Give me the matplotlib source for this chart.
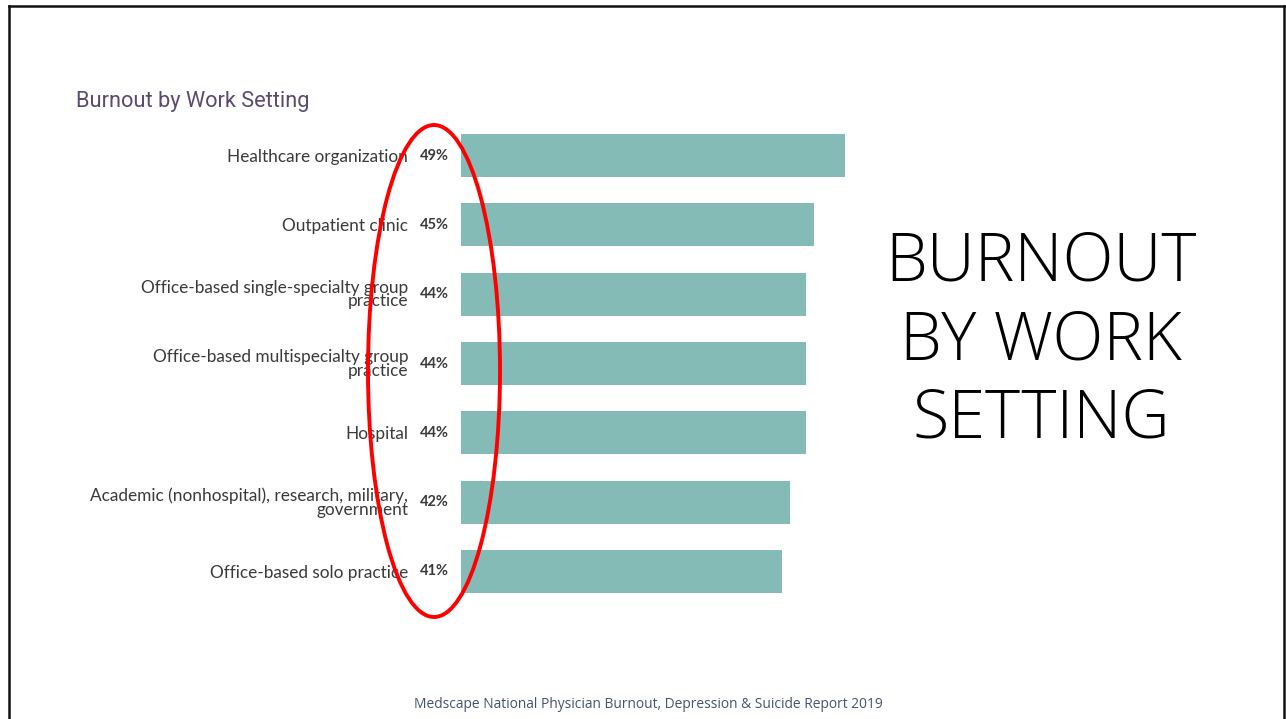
import matplotlib
matplotlib.use('Agg')
import matplotlib.pyplot as plt
from matplotlib.patches import Ellipse
from matplotlib.lines import Line2D

settings = ['Healthcare organization',
            'Outpatient clinic',
            'Office-based single-specialty group\npractice',
            'Office-based multispecialty group\npractice',
            'Hospital',
            'Academic (nonhospital), research, military,\ngovernment',
            'Office-based solo practice']
burnout = [49, 45, 44, 44, 44, 42, 41]

W, H = 1286, 719
figure = plt.figure(figsize=(W / 100, H / 100), dpi=100)
figure.patch.set_facecolor('white')

# bar panel, placed in pixel units of the slide
axes = figure.add_axes([461 / W, 113 / H, 392 / W, 485 / H])
ypos = list(range(len(settings)))
axes.barh(ypos, burnout, height=0.62, color='#84bbb7', edgecolor='none')
axes.set_xlim(0, 50)
axes.set_ylim(len(settings) - 0.5, -0.5)
axes.set_xticks([])
axes.set_yticks(ypos)
axes.set_yticklabels(settings, fontsize=12.4, family='Lato', color='#3a3a3a',
                     linespacing=0.82)
axes.tick_params(axis='y', length=0, pad=38)
for side in axes.spines.values():
    side.set_visible(False)

for y, v in zip(ypos, burnout):
    axes.annotate('%d%%' % v, (0, y), xytext=(-8.5, 0), textcoords='offset points',
                  ha='right', va='center', fontsize=10.5, family='Lato',
                  fontweight='bold', color='#3a3a3a')

figure.text(76 / W, 1 - 101 / H, 'Burnout by Work Setting', fontsize=15.7,
            family='Roboto', color='#5b4a70', va='center', ha='left')

figure.text(1041 / W, 1 - 342 / H, 'BURNOUT\nBY WORK\nSETTING', fontsize=48,
            family='Open Sans', fontweight='light', color='black',
            ha='center', va='center', linespacing=1.24)

figure.text(648 / W, 1 - 705 / H,
            'Medscape National Physician Burnout, Depression & Suicide Report 2019',
            fontsize=9.9, family='Open Sans', color='#44546a', ha='center', va='center')

# red ring around the percentages
figure.add_artist(Ellipse((434 / W, 1 - 371 / H), 132 / W, 492 / H,
                          transform=figure.transFigure, fill=False,
                          edgecolor='#ff0000', linewidth=2.8))

# slide frame (left, top, right)
for xs, ys in [([9 / W, 9 / W], [0, 1 - 6 / H]),
               ([9 / W, 1284 / W], [1 - 6 / H, 1 - 6 / H]),
               ([1284 / W, 1284 / W], [1 - 6 / H, 0])]:
    figure.add_artist(Line2D(xs, ys, transform=figure.transFigure,
                             color='#111111', linewidth=1.8))

figure.savefig('out.png', dpi=100)
